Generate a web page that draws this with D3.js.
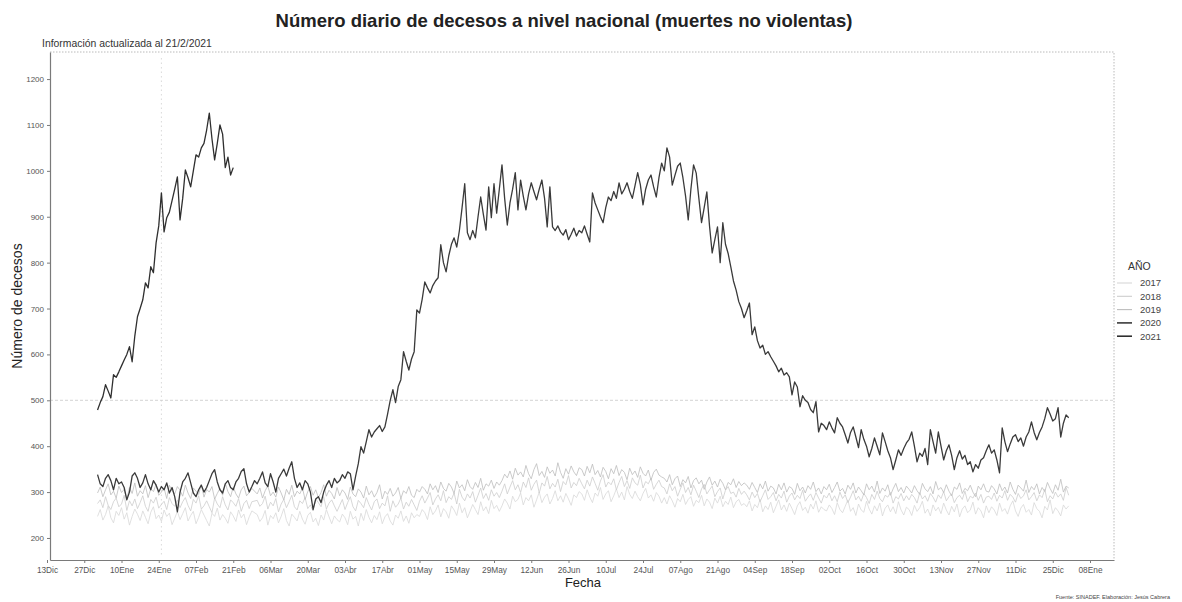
<!DOCTYPE html>
<html>
<head>
<meta charset="utf-8">
<script src="https://cdn.jsdelivr.net/npm/d3@7"></script>
<style>
  body { margin: 0; background: #fff; }
  svg { font-family: "Liberation Sans", Arial, sans-serif; }
</style>
</head>
<body>
<svg id="chart" width="1182" height="602"></svg>
<script>
// daily deaths per year, Jan 1 onward
var years = ["2017", "2018", "2019", "2020", "2021"];

var d2017 = [
  247,262,239,251,270,244,233,258,249,266,241,255,228,247,263,252,238,259,245,231,256,268,242,250,236,261,247,254,229,243,258,
  240,253,266,237,249,258,231,245,262,250,238,226,254,247,265,239,251,243,232,257,248,236,261,244,252,229,246,259,
  251,236,244,260,228,249,242,255,233,247,264,238,226,252,245,237,258,241,230,249,256,235,243,227,250,239,262,246,231,248,240,
  235,252,244,229,258,241,247,226,254,238,262,245,233,249,240,257,231,246,253,237,228,250,243,259,236,248,232,255,244,251,
  247,262,255,240,268,251,259,272,246,264,257,243,270,261,249,276,255,266,244,258,273,262,251,279,259,268,253,282,264,271,258,
  270,285,276,263,291,279,284,298,272,288,281,294,267,283,300,277,289,296,274,286,303,281,292,278,297,285,271,294,288,301,
  296,282,305,289,277,298,291,310,284,296,303,279,292,307,288,300,283,312,295,286,302,290,281,297,308,287,294,280,299,291,276,
  288,274,292,281,267,286,279,295,273,284,290,269,282,277,293,270,285,278,264,287,276,291,268,280,273,289,266,279,284,271,275,
  268,281,259,273,266,284,257,270,262,278,255,269,283,261,272,258,276,264,251,270,279,260,267,254,274,263,281,256,268,262,
  259,272,264,251,277,262,255,269,283,258,266,249,274,261,256,280,263,252,270,259,276,248,265,272,257,268,253,279,261,250,267,
  262,249,271,258,266,280,254,263,248,272,259,267,253,276,261,250,269,257,274,246,263,270,255,261,278,252,266,259,244,270,
  255,268,261,249,276,258,264,252,270,281,259,247,265,273,256,262,250,277,264,258,244,269,261,283,253,266,259,248,272,263,270
];

var d2018 = [
  275,283,266,290,271,262,279,287,268,274,293,260,281,270,285,264,277,292,269,258,284,276,289,265,273,280,262,288,275,269,283,
  266,279,288,271,259,284,276,292,263,270,281,268,255,287,274,266,290,272,261,283,277,269,286,258,275,282,264,279,
  282,269,275,291,263,278,270,286,257,274,284,266,279,293,268,261,281,275,288,264,272,259,285,277,268,290,263,276,283,270,258,
  271,284,262,277,290,268,259,282,275,266,288,273,261,279,285,264,276,270,292,258,281,267,274,287,263,278,269,284,272,260,
  280,292,276,287,299,272,285,294,281,303,277,290,284,298,274,306,289,281,296,287,301,278,293,309,286,297,282,305,291,299,288,
  302,318,296,311,325,305,316,299,322,310,331,304,317,326,298,320,313,334,307,319,311,328,301,323,316,336,309,321,314,330,
  318,307,326,313,333,319,304,324,338,311,322,316,329,305,321,334,312,325,308,331,320,315,337,309,323,318,330,306,317,326,312,
  309,296,318,303,312,291,306,320,299,310,294,315,302,288,307,317,296,305,313,290,301,309,285,304,312,297,300,289,308,295,302,
  294,283,300,288,297,279,292,305,284,290,299,281,295,287,302,278,291,298,283,293,286,304,280,289,296,282,299,287,276,293,
  287,298,281,292,279,300,286,294,277,289,303,283,291,280,297,288,275,295,284,302,286,279,293,289,299,276,290,285,297,281,292,
  283,295,288,276,299,285,292,280,297,289,278,294,286,301,281,290,296,277,288,293,284,302,279,291,287,298,282,295,276,289,
  291,284,298,280,293,287,303,282,295,289,278,297,286,292,305,283,290,299,281,294,288,306,279,292,285,300,289,296,282,310,293
];

var d2019 = [
  298,311,290,305,318,294,302,287,313,299,306,284,310,297,320,291,303,296,314,288,307,301,317,293,300,309,286,315,302,296,312,
  304,291,315,298,286,309,302,295,317,289,306,300,312,285,297,308,293,319,301,290,311,296,287,305,313,292,299,308,
  296,309,287,303,314,292,300,289,311,298,283,306,295,315,290,302,296,309,284,301,312,293,305,288,299,316,291,304,297,285,310,
  292,305,298,284,311,296,290,307,300,287,313,294,303,289,299,316,285,302,295,308,291,298,310,286,303,297,312,293,288,306,
  300,312,306,296,318,305,314,299,322,308,302,319,311,297,324,309,316,303,327,312,306,321,310,330,304,318,313,326,308,322,315,
  325,339,331,346,328,352,337,344,333,358,340,329,349,362,336,345,332,355,341,348,335,364,343,330,351,339,357,344,336,353,
  349,335,356,342,361,338,347,333,354,345,329,351,340,358,336,349,343,327,352,338,346,332,355,341,335,348,326,343,350,337,333,
  330,322,338,316,329,335,312,327,320,334,309,325,331,318,326,306,322,333,315,324,311,328,319,305,321,316,329,310,323,314,320,
  315,306,321,310,299,318,307,324,302,313,309,296,317,305,320,300,312,308,295,319,303,311,298,314,306,322,301,309,296,312,
  305,317,299,310,322,302,308,296,315,306,320,298,311,303,294,318,305,313,300,324,297,309,302,316,293,307,319,301,310,298,313,
  306,298,314,303,295,319,307,301,312,296,323,305,310,299,316,302,292,311,306,320,297,308,303,315,300,290,313,305,318,302,
  300,314,307,296,318,303,311,298,322,306,295,315,309,302,326,299,312,305,318,296,310,301,321,308,297,316,304,328,300,313,309
];

var d2020 = [
  338,318,312,330,338,325,305,330,318,322,310,283,300,335,342,330,310,320,338,318,305,325,315,300,312,305,320,298,310,290,257,
  300,322,330,342,320,298,290,305,315,300,310,325,340,349,322,305,298,318,325,310,305,322,330,345,351,318,300,312,325,
  318,330,344,320,312,340,322,300,330,340,350,335,352,366,330,310,320,305,325,318,300,262,285,290,277,300,315,325,310,330,320,
  325,338,330,344,340,305,335,362,399,385,410,436,420,431,438,445,432,442,470,500,523,495,530,545,606,585,566,590,606,697,
  690,720,758,745,734,750,760,767,839,800,780,815,840,854,834,870,920,972,865,850,870,854,900,943,905,871,965,898,972,908,960,
  1013,940,882,930,960,996,915,980,945,915,950,974,955,937,960,980,940,878,965,878,870,880,867,860,872,850,862,875,858,870,
  865,880,862,845,952,930,915,900,887,920,943,935,955,940,974,950,960,974,955,940,968,996,970,926,960,980,991,965,943,985,1017,
  1000,1050,1030,969,990,1010,1017,985,945,893,960,1013,995,940,887,920,954,880,821,850,878,800,887,840,820,791,760,740,715,700,680,
  695,712,643,660,630,614,620,600,606,595,585,575,562,570,555,560,551,512,540,529,486,510,500,495,480,473,497,431,450,445,
  436,453,440,429,462,450,442,425,407,430,442,420,397,436,415,400,377,395,418,400,381,429,410,390,375,349,370,392,380,395,407,
  415,431,400,366,385,378,395,360,436,410,385,431,400,370,390,403,380,349,375,390,372,380,360,366,344,360,352,370,375,390,
  403,385,392,370,342,440,410,388,405,420,425,410,418,400,420,431,453,430,414,430,442,460,484,470,455,460,484,420,450,468,462
];

var d2021 = [
  479,495,508,534,520,505,556,550,562,575,588,600,617,584,640,682,700,719,756,745,791,778,843,880,952,867,898,910,935,960,987,
  893,940,1002,985,965,1000,1035,1030,1050,1060,1089,1126,1070,1024,1060,1100,1080,1007,1030,991,1007
];

var yTicks = [200, 300, 400, 500, 600, 700, 800, 900, 1000, 1100, 1200];
var xTickDates = ["2019-12-13","2019-12-27","2020-01-10","2020-01-24","2020-02-07","2020-02-21","2020-03-06",
  "2020-03-20","2020-04-03","2020-04-17","2020-05-01","2020-05-15","2020-05-29","2020-06-12","2020-06-26",
  "2020-07-10","2020-07-24","2020-08-07","2020-08-21","2020-09-04","2020-09-18","2020-10-02","2020-10-16",
  "2020-10-30","2020-11-13","2020-11-27","2020-12-11","2020-12-25","2021-01-08"];
var xTickLabels = ["13Dic","27Dic","10Ene","24Ene","07Feb","21Feb","06Mar","20Mar","03Abr","17Abr","01May",
  "15May","29May","12Jun","26Jun","10Jul","24Jul","07Ago","21Ago","04Sep","18Sep","02Oct","16Oct","30Oct",
  "13Nov","27Nov","11Dic","25Dic","08Ene"];
var refValue = 500, refDate = "2020-01-25";

var colors = {"2017": "#d8d8d8", "2018": "#cdcdcd", "2019": "#bdbdbd", "2020": "#3a3a3a", "2021": "#2f2f2f"};
var widths = {"2017": 0.8, "2018": 0.8, "2019": 0.8, "2020": 1.3, "2021": 1.3};

var parse = d3.timeParse("%Y-%m-%d");
var panel = {left: 50, right: 1114, top: 52, bottom: 560};

// every year is put on the 2020 calendar
var toRef = (year, i) => {
  var d = new Date(year, 0, 1 + i);
  return new Date(2020, d.getMonth(), d.getDate());
};
var raw = {"2017": d2017, "2018": d2018, "2019": d2019, "2020": d2020, "2021": d2021};
var series = years.map(yr => ({
  year: yr,
  values: raw[yr].map((v, i) => ({date: toRef(+yr, i), value: v}))
}));

var x = d3.scaleTime()
  .domain([parse(xTickDates[0]), parse(xTickDates[xTickDates.length - 1])])
  .range([47, 1090]);
x.domain([x.invert(panel.left), x.invert(panel.right)]).range([panel.left, panel.right]);

var y = d3.scaleLinear()
  .domain([152, 1259])
  .range([panel.bottom, panel.top]);

var svg = d3.select("#chart");

svg.append("text")
  .attr("x", 564).attr("y", 27)
  .attr("text-anchor", "middle")
  .attr("font-size", 18.5).attr("font-weight", "bold").attr("fill", "#222")
  .text("Número diario de decesos a nivel nacional (muertes no violentas)");

svg.append("text")
  .attr("x", 42).attr("y", 47)
  .attr("font-size", 10.4).attr("fill", "#333")
  .text("Información actualizada al 21/2/2021");

// dotted panel border on top and right
svg.append("path")
  .attr("d", `M${panel.left},${panel.top}H${panel.right}V${panel.bottom}`)
  .attr("fill", "none").attr("stroke", "#a8a8a8").attr("stroke-width", 0.8)
  .attr("stroke-dasharray", "1.5,1.5");

// reference lines
svg.append("line")
  .attr("x1", panel.left).attr("x2", panel.right)
  .attr("y1", y(refValue)).attr("y2", y(refValue))
  .attr("stroke", "#c8c8c8").attr("stroke-width", 0.8).attr("stroke-dasharray", "3,2");
svg.append("line")
  .attr("x1", x(parse(refDate))).attr("x2", x(parse(refDate)))
  .attr("y1", panel.top + 6).attr("y2", panel.bottom - 4)
  .attr("stroke", "#d0d0d0").attr("stroke-width", 0.8).attr("stroke-dasharray", "1.5,3");

var line = d3.line()
  .x(d => x(d.date))
  .y(d => y(d.value));

svg.append("g")
  .selectAll("path")
  .data(series)
  .join("path")
    .attr("d", d => line(d.values))
    .attr("fill", "none")
    .attr("stroke", d => colors[d.year])
    .attr("stroke-width", d => widths[d.year])
    .attr("stroke-linejoin", "round");

// axes
var xAxis = svg.append("g")
  .attr("transform", `translate(0,${panel.bottom})`)
  .call(d3.axisBottom(x)
    .tickValues(xTickDates.map(parse))
    .tickFormat((d, i) => xTickLabels[i])
    .tickSize(3).tickSizeOuter(0));
xAxis.select(".domain").attr("stroke", "#7a7a7a").attr("stroke-width", 1.2);
xAxis.selectAll(".tick line").attr("stroke", "#7a7a7a");
xAxis.selectAll(".tick text").attr("font-size", 8.3).attr("fill", "#555").attr("dy", "0.9em")
  .attr("font-family", "Liberation Sans, Arial, sans-serif");

var yAxis = svg.append("g")
  .attr("transform", `translate(${panel.left},0)`)
  .call(d3.axisLeft(y).tickValues(yTicks).tickFormat(d3.format("d")).tickSize(3).tickSizeOuter(0));
yAxis.select(".domain").attr("stroke", "#7a7a7a").attr("stroke-width", 1.2);
yAxis.selectAll(".tick line").attr("stroke", "#7a7a7a");
yAxis.selectAll(".tick text").attr("font-size", 8).attr("fill", "#555")
  .attr("font-family", "Liberation Sans, Arial, sans-serif");

svg.append("text")
  .attr("x", 583).attr("y", 587)
  .attr("text-anchor", "middle").attr("font-size", 13).attr("fill", "#222")
  .text("Fecha");

svg.append("text")
  .attr("transform", "translate(22,306) rotate(-90)")
  .attr("text-anchor", "middle").attr("font-size", 14).attr("fill", "#222")
  .text("Número de decesos");

svg.append("text")
  .attr("x", 1170).attr("y", 599)
  .attr("text-anchor", "end").attr("font-size", 5.5).attr("fill", "#444")
  .text("Fuente: SINADEF. Elaboración: Jesús Cabrera");

// legend
var legend = svg.append("g").attr("transform", "translate(1117,266)");
legend.append("text")
  .attr("x", 11).attr("y", 4)
  .attr("font-size", 10.5).attr("fill", "#333")
  .text("AÑO");
var item = legend.selectAll("g.item")
  .data(years)
  .join("g")
    .attr("class", "item")
    .attr("transform", (d, i) => `translate(0,${17 + i * 13.3})`);
item.append("line")
  .attr("x1", 0).attr("x2", 15)
  .attr("stroke", d => colors[d])
  .attr("stroke-width", d => widths[d] + 0.3);
item.append("text")
  .attr("x", 23).attr("dy", "0.35em")
  .attr("font-size", 9.5).attr("fill", "#444")
  .text(d => d);
</script>
</body>
</html>
